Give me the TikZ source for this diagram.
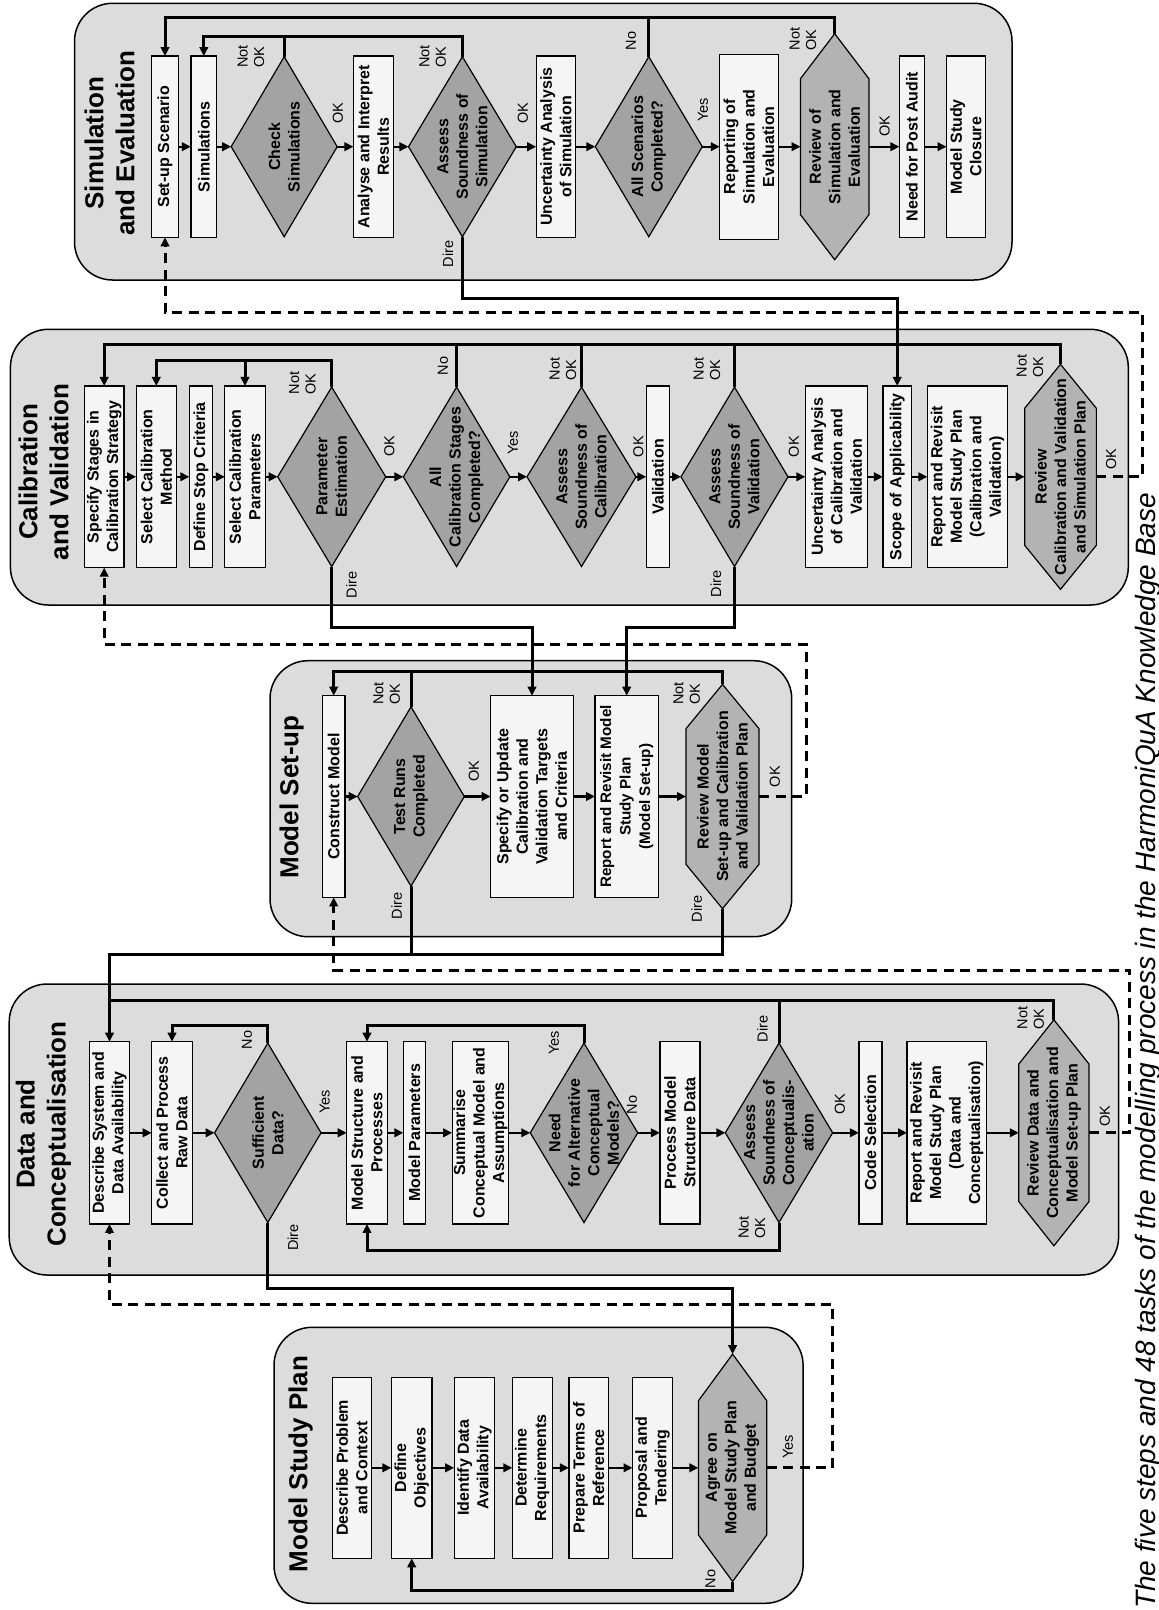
\documentclass[tikz,border=0pt]{standalone}
\usepackage{fontspec}
\setmainfont{Liberation Sans}
\usetikzlibrary{shapes.geometric,arrows.meta}
\definecolor{grpc}{HTML}{DCDCDC}
\definecolor{boxc}{HTML}{F5F5F5}
\definecolor{dmdc}{HTML}{A3A3A3}
\definecolor{hexc}{HTML}{B3B3B3}
\newcommand\myBoxFont{\fontsize{16}{19.5}\selectfont\bfseries}
\newcommand\mySmallBoxFont{\fontsize{15.2}{19.5}\selectfont\bfseries}
\newcommand\myLabFont{\fontsize{14.5}{16.5}\selectfont}
\newcommand\myTtlFont{\fontsize{26}{31}\selectfont\bfseries}
\newcommand\myCapFont{\fontsize{28}{32}\selectfont\itshape}
\newcommand\rbox[6]{\node[rbx,minimum width=#4,minimum height=#5] (#1) at (#2,#3) {#6};}
\newcommand\dbox[6]{\node[dmd,minimum width=#4,minimum height=#5] (#1) at (#2,#3) {};\node[txt] (#1t) at (#1.center) {#6};}
\newcommand\hxbox[7]{\node[hxn,minimum width=#4,minimum height=#5] (#1) at (#2,#3) {};
  \draw[hxd] ({#2},{#3-#4/2}) -- ({#2+#5/2},{#3-#4/2+#6}) -- ({#2+#5/2},{#3+#4/2-#6}) -- ({#2},{#3+#4/2}) -- ({#2-#5/2},{#3+#4/2-#6}) -- ({#2-#5/2},{#3-#4/2+#6}) -- cycle;
  \node[txt] (#1t) at (#1.center) {#7};}
\newcommand\lab[4]{\node[lbl] (#1) at (#2,#3) {#4};}
\begin{document}
\begin{tikzpicture}[x=1pt,y=-1pt,
  rbx/.style={rectangle,draw,line width=1.2pt,fill=boxc,rotate=90,inner sep=0pt,outer sep=0pt,align=center,font=\myBoxFont},
  dmd/.style={diamond,draw,line width=1.2pt,fill=dmdc,rotate=90,inner sep=0pt,outer sep=0pt},
  hxn/.style={rectangle,rotate=90,inner sep=0pt,outer sep=0pt},
  hxd/.style={draw,line width=1.2pt,fill=hexc},
  txt/.style={rotate=90,align=center,inner sep=0pt,font=\myBoxFont},
  lbl/.style={rotate=90,align=left,inner sep=0pt,font=\myLabFont},
  ttl/.style={rotate=90,align=center,inner sep=0pt,font=\myTtlFont},
  capn/.style={rotate=90,anchor=base west,inner sep=0pt,font=\myCapFont},
  grp/.style={draw,line width=1.5pt,fill=grpc,rounded corners=38pt},
  ar/.style={line width=2.4pt,-{Triangle[length=9pt,width=8.5pt]}},
  lp/.style={line width=3pt},
  ah/.style={-{Triangle[length=9pt,width=8.5pt]}},
  dsh/.style={line width=3pt,dash pattern=on 10pt off 6.5pt}]
\useasboundingbox (0,0) rectangle (1159,1610);
\fill[white] (0,0) rectangle (1159,1610);
% group boxes
\draw[grp] (74.5,3.3) rectangle (1012,280);
\draw[grp] (10.4,329.3) rectangle (1128.3,605);
\draw[grp] (270,660.7) rectangle (791.7,936.7);
\draw[grp] (9.2,984) rectangle (1118.6,1275);
\draw[grp] (274,1327.3) rectangle (803.1,1603.3);
% titles
\node[ttl] (t1) at (109.5,143) {Simulation\\and Evaluation};
\node[ttl] (t2) at (43.5,472) {Calibration\\and Validation};
\node[ttl] (t3) at (291.7,797) {Model Set-up};
\node[ttl] (t4) at (43.5,1134) {Data and\\Conceptualisation};
\node[ttl] (t5) at (300.7,1464) {Model Study Plan};
% simulation row
\rbox{setup}{165}{146.7}{181.3}{27.5}{Set-up Scenario}
\rbox{sims}{203.8}{146.7}{181.3}{25.8}{Simulations}
\dbox{chk}{284.2}{146.7}{180}{106}{Check\\Simulations}
\rbox{ana}{373.4}{146.7}{181.3}{40}{Analyse and Interpret\\Results}
\dbox{asim}{462.4}{146.7}{180}{107.8}{Assess\\Soundness of\\Simulation}
\rbox{unc}{556}{146.7}{181.3}{39.6}{Uncertainty Analysis\\of Simulation}
\dbox{allsc}{648.8}{146.7}{180}{107}{All Scenarios\\Completed?}
\rbox{rep}{749}{146.7}{185}{58.5}{Reporting of\\Simulation and\\Evaluation}
\hxbox{rev}{834.7}{146.7}{226}{68.4}{45}{Review of\\Simulation and\\Evaluation}
\rbox{npa}{911.9}{146.7}{181.3}{25.1}{Need for Post Audit}
\rbox{msc}{966}{146.7}{181.3}{39}{Model Study\\Closure}
% calibration row
\rbox{spec}{104.2}{476.8}{181.7}{39.6}{Specify Stages in\\Calibration Strategy}
\rbox{scm}{156.3}{476.8}{181.7}{40.4}{Select Calibration\\Method}
\rbox{dsc}{201}{476.8}{181.7}{23.3}{Define Stop Criteria}
\rbox{scp}{245}{476.8}{181.7}{40.3}{Select Calibration\\Parameters}
\dbox{pe}{331.7}{476.8}{179.4}{108}{Parameter\\Estimation}
\dbox{acs}{456.6}{476.8}{179.4}{106.5}{All\\Calibration Stages\\Completed?}
\dbox{asc}{581.5}{476.8}{179.4}{109}{Assess\\Soundness of\\Calibration}
\rbox{val}{658}{476.8}{181.7}{23.5}{Validation}
\dbox{asv}{734.5}{476.8}{179.4}{107}{Assess\\Soundness of\\Validation}
\rbox{ucv}{836.6}{476.8}{181.7}{62.5}{Uncertainty Analysis\\of Calibration and\\Validation}
\rbox{soa}{897.2}{476.8}{181.7}{28.5}{Scope of Applicability}
\rbox{rcv}{967.5}{476.8}{181.7}{80.3}{Report and Revisit\\Model Study Plan\\(Calibration and\\Validation)}
\hxbox{revc}{1060.5}{476.8}{225}{71.7}{44}{Review\\Calibration and Validation\\and Simulation Plan}
% model set-up row
\rbox{cm}{333.7}{796.5}{201.7}{22.7}{Construct Model}
\dbox{trc}{411}{796.5}{179.3}{106.7}{Test Runs\\Completed}
\rbox{suc}{532}{796.5}{201.7}{82.7}{Specify or Update\\Calibration and\\Validation Targets\\and Criteria}
\node[rbx,minimum width=201.7,minimum height=63.3,font=\mySmallBoxFont] (rrm) at (626.7,796.5) {Report and Revisit Model\\Study Plan\\(Model Set-up)};
\hxbox{revm}{722.5}{796.5}{224.3}{73}{44.3}{Review Model\\Set-up and Calibration\\and Validation Plan}
% data row
\rbox{dsd}{109.5}{1132.8}{182.3}{40}{Describe System and\\Data Availability}
\rbox{cpr}{172}{1132.8}{182.3}{40.7}{Collect and Process\\Raw Data}
\dbox{sd}{267.8}{1132.8}{179.4}{106.5}{Sufficient\\Data?}
\rbox{msp}{367}{1132.8}{182.3}{40.6}{Model Structure and\\Processes}
\rbox{mpar}{414.4}{1132.8}{182.3}{22.2}{Model Parameters}
\rbox{scm2}{480.4}{1132.8}{182.3}{56.6}{Summarise\\Conceptual Model and\\Assumptions}
\dbox{nac}{584}{1132.8}{179.4}{107.5}{Need\\for Alternative\\Conceptual\\Models?}
\rbox{pmsd}{679.9}{1132.8}{182.3}{40}{Process Model\\Structure Data}
\dbox{asco}{779}{1132.8}{179.4}{107.3}{Assess\\Soundness of\\Conceptualis-\\ation}
\rbox{cs}{870.4}{1132.8}{182.3}{23}{Code Selection}
\rbox{rrd}{946.8}{1132.8}{182.3}{79.6}{Report and Revisit\\Model Study Plan\\(Data and\\Conceptualisation)}
\hxbox{revd}{1053.9}{1132.8}{226}{70.3}{44.3}{Review Data and\\Conceptualisation and\\Model Set-up Plan}
% plan row
\rbox{dpc}{351.9}{1467.8}{181}{39.6}{Describe Problem\\and Context}
\rbox{dob}{411.7}{1467.8}{181}{40.7}{Define\\Objectives}
\rbox{ida}{474.5}{1467.8}{181}{40.7}{Identify Data\\Availability}
\rbox{dre}{532.3}{1467.8}{181}{40}{Determine\\Requirements}
\rbox{ptr}{588.7}{1467.8}{181}{39.6}{Prepare Terms of\\Reference}
\rbox{pat}{652.5}{1467.8}{181}{40}{Proposal and\\Tendering}
\hxbox{agr}{732.6}{1467.8}{227.4}{68.4}{46.7}{Agree on\\Model Study Plan\\and Budget}
% level coordinates
\coordinate (sO) at (0,17.3);
\coordinate (sI) at (0,36);
\coordinate (sD) at (0,298.3);
\coordinate (cO) at (0,344.3);
\coordinate (cI) at (0,360.7);
\coordinate (cD) at (0,627.3);
\coordinate (cdash) at (1142.7,312.3);
\coordinate (mI) at (0,671.7);
\coordinate (mD) at (0,954);
\coordinate (mdash) at (806,644);
\coordinate (dO) at (0,1000);
\coordinate (dI) at (0,1025);
\coordinate (dB) at (0,1250.7);
\coordinate (dD) at (0,1288.3);
\coordinate (ddash) at (1129.7,970);
\coordinate (pB) at (0,1590.7);
\coordinate (pdash) at (832.7,1304.3);
% row arrows
\foreach \a/\b in {setup/sims,sims/chk,chk/ana,ana/asim,asim/unc,unc/allsc,allsc/rep,rep/rev,rev/npa,npa/msc,
  spec/scm,scm/dsc,dsc/scp,scp/pe,pe/acs,acs/asc,asc/val,val/asv,asv/ucv,ucv/soa,soa/rcv,rcv/revc,
  cm/trc,trc/suc,suc/rrm,rrm/revm,
  dsd/cpr,cpr/sd,sd/msp,msp/mpar,mpar/scm2,scm2/nac,nac/pmsd,pmsd/asco,asco/cs,cs/rrd,rrd/revd,
  dpc/dob,dob/ida,ida/dre,dre/ptr,ptr/pat,pat/agr}
  \draw[ar] (\a) -- (\b);
% simulation loops
\draw[lp,ah] (allsc.east) |- (setup.east |- sO) -- (setup.east);
\draw[lp] (rev.east) |- (allsc.east |- sO);
\draw[lp,ah] (asim.east) |- (sims.east |- sI) -- (sims.east);
\draw[lp] (chk.east) -- (chk.east |- sI);
\draw[lp,ah] (asim.west) |- (soa.east |- sD) -- (soa.east);
% calibration loops
\draw[lp,ah] (revc.east) |- (spec.east |- cO) -- (spec.east);
\draw[lp] (asv.east) -- (asv.east |- cO);
\draw[lp] (asc.east) -- (asc.east |- cO);
\draw[lp] (acs.east) -- (acs.east |- cO);
\draw[lp,ah] (pe.east) |- (scm.east |- cI) -- (scm.east);
\draw[lp,ah] (scp.east |- cI) -- (scp.east);
\draw[lp,ah] (pe.west) |- (suc.east |- cD) -- (suc.east);
\draw[lp,ah] (asv.west) |- (rrm.east |- cD) -- (rrm.east);
% model set-up loops
\draw[lp,ah] (revm.east) |- (cm.east |- mI) -- (cm.east);
\draw[lp] (trc.east) -- (trc.east |- mI);
\draw[lp,ah] (revm.west) |- (dsd.east |- mD) -- (dsd.east);
\draw[lp] (trc.west) -- (trc.west |- mD);
% data loops
\draw[lp] (revd.east) |- (dsd.east |- dO);
\draw[lp] (asco.east) -- (asco.east |- dO);
\draw[lp,ah] (sd.east) |- (cpr.east |- dI) -- (cpr.east);
\draw[lp,ah] (nac.east) |- (msp.east |- dI) -- (msp.east);
\draw[lp,ah] (asco.west) |- (msp.west |- dB) -- (msp.west);
\draw[lp,ah] (sd.west) |- (agr.east |- dD) -- (agr.east);
% plan loop
\draw[lp,ah] (agr.west) |- (dob.west |- pB) -- (dob.west);
% dashed hand-overs
\draw[dsh,ah] (revc.south) -| (cdash) -| (setup.west);
\draw[dsh,ah] (revm.south) -| (mdash) -| (spec.west);
\draw[dsh,ah] (revd.south) -| (ddash) -| (cm.west);
\draw[dsh,ah] (agr.south) -| (pdash) -| (dsd.west);
% labels
\lab{l1}{251}{56.7}{Not\\OK}
\lab{l2}{338}{113}{OK}
\lab{l3}{432.6}{56.7}{Not\\OK}
\lab{l4}{523}{113}{OK}
\lab{l5}{448}{254}{Dire}
\lab{l6}{631}{41}{No}
\lab{l7}{703}{110}{Yes}
\lab{l8}{803}{39}{Not\\OK}
\lab{l9}{884.5}{126}{OK}
\lab{l10}{302.5}{383}{Not\\OK}
\lab{l11}{389.5}{446}{OK}
\lab{l12}{443}{366}{No}
\lab{l13}{513}{443}{Yes}
\lab{l14}{563}{369}{Not\\OK}
\lab{l15}{638.5}{446.7}{OK}
\lab{l16}{707}{369}{Not\\OK}
\lab{l17}{794}{446.7}{OK}
\lab{l18}{351.5}{585}{Dire}
\lab{l19}{716}{584}{Dire}
\lab{l20}{1030}{366}{Not\\OK}
\lab{l21}{1111}{459}{OK}
\lab{l22}{386.7}{693.3}{Not\\OK}
\lab{l23}{474}{771}{OK}
\lab{l24}{686.7}{693.3}{Not\\OK}
\lab{l25}{396.7}{906}{Dire}
\lab{l26}{696.7}{909}{Dire}
\lab{l27}{775}{776.7}{OK}
\lab{l28}{247}{1040}{No}
\lab{l29}{324.7}{1101.7}{Yes}
\lab{l30}{293}{1237.5}{Dire}
\lab{l31}{554}{1043}{Yes}
\lab{l32}{632}{1105}{No}
\lab{l33}{762.5}{1029}{Dire}
\lab{l34}{752}{1227.5}{Not\\OK}
\lab{l35}{840}{1104}{OK}
\lab{l36}{1030.8}{1018}{Not\\OK}
\lab{l37}{1104.8}{1116}{OK}
\lab{l38}{710.5}{1579}{No}
\lab{l39}{788}{1446.7}{Yes}
% caption
\node[capn] (cap) at (1155,1609) {The five steps and 48 tasks of the modelling process in the HarmoniQuA Knowledge Base};
\end{tikzpicture}
\end{document}
